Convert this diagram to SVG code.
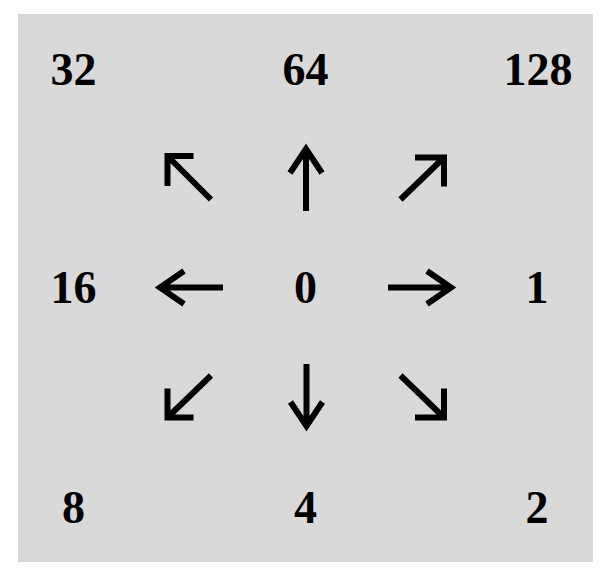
<svg xmlns="http://www.w3.org/2000/svg" width="610" height="582" viewBox="0 0 610 582">
<style>
.n{font-family:"Liberation Serif","Times New Roman",serif;font-weight:bold;font-size:46px;fill:#000;text-anchor:middle}
.a{fill:none;stroke:#000;stroke-width:6;stroke-linejoin:miter;stroke-linecap:butt;stroke-miterlimit:10}
</style>
<rect x="18" y="14" width="575" height="548" fill="#d9d9d9"/>
<g id="n32"><text class="n" x="73.5" y="85">32</text></g>
<g id="n64"><text class="n" x="305.5" y="85">64</text></g>
<g id="n128"><text class="n" x="538" y="85">128</text></g>
<g id="n16"><text class="n" x="73.5" y="303">16</text></g>
<g id="n0"><text class="n" x="305.5" y="303">0</text></g>
<g id="n1"><text class="n" x="537" y="303">1</text></g>
<g id="n8"><text class="n" x="73.5" y="523">8</text></g>
<g id="n4"><text class="n" x="305.5" y="523">4</text></g>
<g id="n2"><text class="n" x="537" y="523">2</text></g>
<g id="connectors">
<path class="a" d="M306 211V149M290 173L306 149L322 173"/>
<path class="a" d="M306.5 364V426M290.5 402L306.5 426L322.5 402"/>
<path class="a" d="M223 287.5H160M184 271L160 287.5L184 304"/>
<path class="a" d="M388 287.5H451M427 271L451 287.5L427 304"/>
<path class="a" d="M211 199.5L167.5 156M193.5 156H167.5V186"/>
<path class="a" d="M400.5 199.5L444 157.5M415 157.5H444V186.5"/>
<path class="a" d="M211 375.5L167.5 417.5M167.5 388.5V417.5H193.5"/>
<path class="a" d="M400.5 375.5L444 417.5M444 388.5V417.5H415"/>
</g>
</svg>
